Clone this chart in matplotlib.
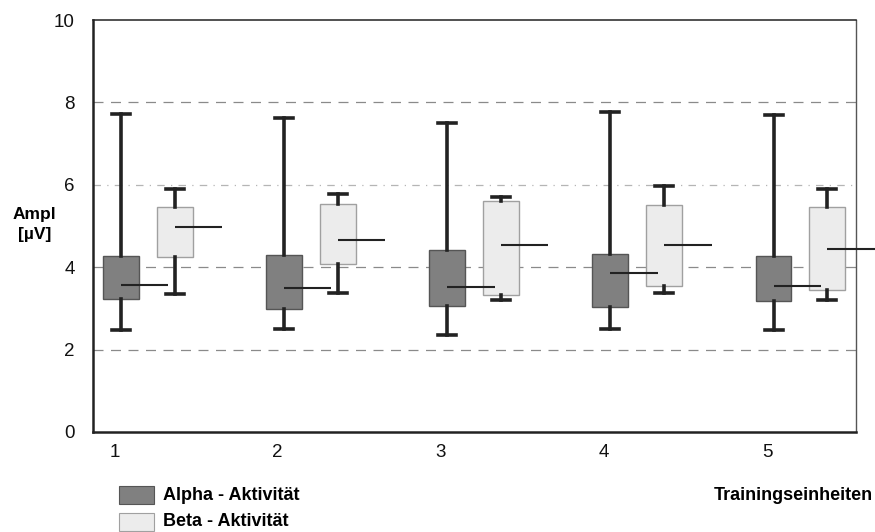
import matplotlib.pyplot as plt
from matplotlib.patches import Rectangle

plt.rcParams['font.family'] = ['Liberation Sans', 'DejaVu Sans']

sessions = [1, 2, 3, 4, 5]
tick_labels = ['1', '2', '3', '4', '5']

# whisker low, box low, box high, whisker high, mid line
alpha_lo = [2.48, 2.51, 2.35, 2.51, 2.48]
alpha_q1 = [3.22, 2.99, 3.07, 3.03, 3.17]
alpha_q3 = [4.26, 4.30, 4.41, 4.31, 4.26]
alpha_hi = [7.71, 7.61, 7.51, 7.76, 7.70]
alpha_mid = [3.56, 3.50, 3.53, 3.86, 3.54]

beta_lo = [3.35, 3.38, 3.20, 3.37, 3.20]
beta_q1 = [4.24, 4.08, 3.32, 3.54, 3.44]
beta_q3 = [5.47, 5.53, 5.61, 5.50, 5.47]
beta_hi = [5.89, 5.78, 5.71, 5.96, 5.89]
beta_mid = [4.97, 4.66, 4.55, 4.55, 4.43]

grid_levels = [2, 4, 6, 8]


def make_stats(lo, q1, q3, hi, mid):
    return [dict(whislo=a, q1=b, med=e, q3=c, whishi=d, fliers=[])
            for a, b, c, d, e in zip(lo, q1, q3, hi, mid)]


fig = plt.figure(figsize=(8.75, 5.32), dpi=100)
ax = fig.add_axes([0.1063, 0.188, 0.8717, 0.7744])

# grid lines
for lvl in grid_levels:
    if lvl == 6:
        ax.axhline(lvl, color='#b5b5b5', lw=0.9, ls=(0, (6, 5, 1, 5)), zorder=0)
    else:
        ax.axhline(lvl, color='#8a8a8a', lw=0.9, ls=(0, (8, 6)), zorder=0)

offset = 0.33
box_w = 0.22
cap_w = 0.11
mid_len = 0.29

groups = [
    (make_stats(alpha_lo, alpha_q1, alpha_q3, alpha_hi, alpha_mid), 0.0,
     '#808080', '#555555', alpha_mid),
    (make_stats(beta_lo, beta_q1, beta_q3, beta_hi, beta_mid), offset,
     '#ececec', '#a0a0a0', beta_mid),
]

for stats, off, face, edge, mids in groups:
    pos = [s + off for s in sessions]
    ax.bxp(stats, positions=pos, widths=box_w, capwidths=cap_w,
           showfliers=False, patch_artist=True,
           boxprops=dict(facecolor=face, edgecolor=edge, lw=1.0),
           whiskerprops=dict(color='#222222', lw=2.6),
           capprops=dict(color='#222222', lw=2.6),
           medianprops=dict(lw=0), zorder=2)
    ax.hlines(mids, pos, [p + mid_len for p in pos], color='#222222',
              lw=1.5, zorder=4, clip_on=False)

ax.set_xlim(0.828, 5.504)
ax.set_ylim(0, 10)
ax.set_yticks([0, 2, 4, 6, 8, 10])
ax.set_xticks([s - 0.04 for s in sessions])
ax.set_xticklabels(tick_labels)
ax.tick_params(axis='y', length=0, pad=13, labelsize=13.5, labelcolor='#111111')
ax.tick_params(axis='x', length=0, pad=9, labelsize=13.5, labelcolor='#111111')

ax.spines['left'].set_linewidth(1.8)
ax.spines['bottom'].set_linewidth(1.8)
ax.spines['top'].set_linewidth(1.1)
ax.spines['right'].set_linewidth(1.0)
for sp in ax.spines.values():
    sp.set_color('#222222')
ax.spines['right'].set_color('#555555')

fig.text(0.039, 0.596, 'Ampl', fontsize=12.5, fontweight='bold', ha='center', va='center')
fig.text(0.040, 0.560, '[µV]', fontsize=12.5, fontweight='bold', ha='center', va='center')

# legend
leg = [('Alpha - Aktivität', '#808080', '#555555'),
       ('Beta - Aktivität', '#ececec', '#a0a0a0')]
for k, (label, face, edge) in enumerate(leg):
    y0 = 0.052 - k * 0.050
    fig.patches.append(Rectangle((0.136, y0), 0.040, 0.034, transform=fig.transFigure,
                                 facecolor=face, edgecolor=edge, lw=0.8))
    fig.text(0.186, y0 + 0.017, label, fontsize=13, fontweight='bold',
             ha='left', va='center')

fig.text(0.997, 0.069, 'Trainingseinheiten', fontsize=13, fontweight='bold',
         ha='right', va='center')

fig.savefig('out.png', dpi=100)
